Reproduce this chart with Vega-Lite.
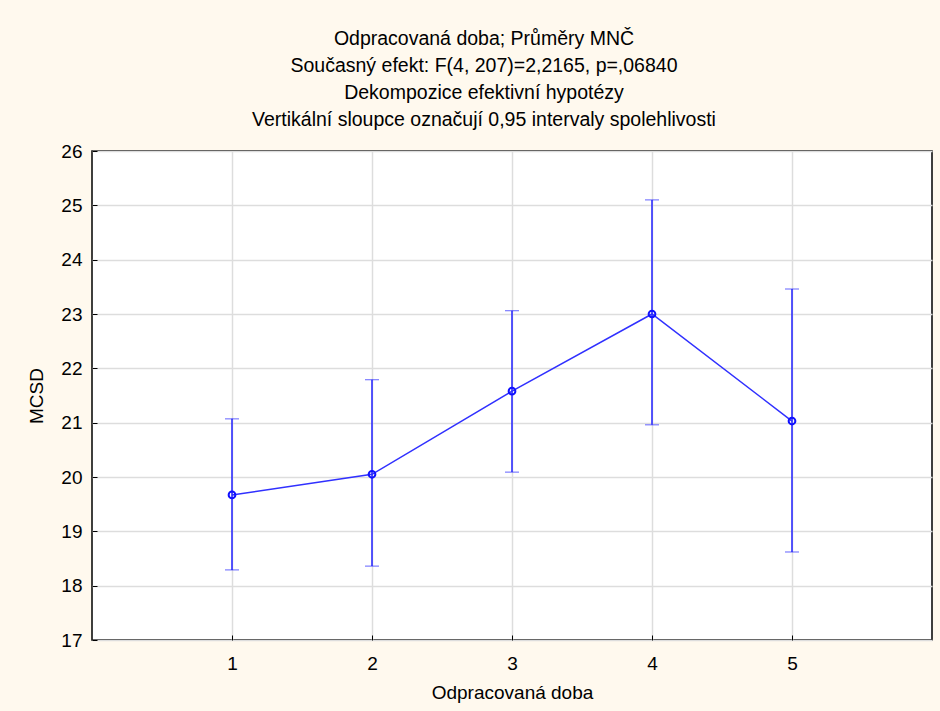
{
  "$schema": "https://vega.github.io/schema/vega-lite/v6.json",
  "autosize": {"type": "none"},
  "width": 840,
  "height": 489,
  "padding": {"left": 92, "top": 151, "right": 8, "bottom": 71},
  "background": "#FFF9EE",
  "config": {
    "font": "Liberation Sans",
    "view": {"stroke": "#000000", "strokeWidth": 1.5, "fill": "#FFFFFF"}
  },
  "title": {
    "text": ["Odpracovaná doba; Průměry MNČ", "Současný efekt: F(4, 207)=2,2165, p=,06840", "Dekompozice efektivní hypotézy", "Vertikální sloupce označují 0,95 intervaly spolehlivosti"],
    "font": "Liberation Sans",
    "fontSize": 19.5,
    "fontWeight": "normal",
    "color": "#000000",
    "lineHeight": 27,
    "anchor": "middle",
    "dx": -28,
    "offset": 12
  },
  "data": {
    "values": [
      {"doba": 1, "mean": 19.67, "lo": 18.29, "hi": 21.07},
      {"doba": 2, "mean": 20.05, "lo": 18.36, "hi": 21.79},
      {"doba": 3, "mean": 21.58, "lo": 20.09, "hi": 23.06},
      {"doba": 4, "mean": 23.0, "lo": 20.96, "hi": 25.1},
      {"doba": 5, "mean": 21.03, "lo": 18.62, "hi": 23.46}
    ]
  },
  "encoding": {
    "x": {
      "field": "doba",
      "type": "quantitative",
      "scale": {"domain": [0, 6], "nice": false, "zero": false},
      "axis": {
        "title": "Odpracovaná doba",
        "values": [1, 2, 3, 4, 5],
        "format": "d",
        "grid": true,
        "gridColor": "#DDDDDD",
        "gridWidth": 1.5,
        "domain": false,
        "tickColor": "#000000",
        "tickSize": -5,
        "labelPadding": 19,
        "labelFontSize": 19,
        "labelColor": "#000000",
        "titleFontSize": 19,
        "titleFontWeight": "normal",
        "titleColor": "#000000",
        "titlePadding": 10
      }
    }
  },
  "layer": [
    {
      "mark": {"type": "errorbar", "ticks": {"size": 14, "color": "#2020FF", "strokeWidth": 1.5}, "rule": {"color": "#2020FF", "strokeWidth": 1.5}},
      "encoding": {
        "y": {
          "field": "lo",
          "type": "quantitative",
          "scale": {"domain": [17, 26], "nice": false, "zero": false},
          "axis": {
            "title": "MCSD",
            "values": [17, 18, 19, 20, 21, 22, 23, 24, 25, 26],
            "format": "d",
            "grid": true,
            "gridColor": "#DDDDDD",
            "gridWidth": 1.5,
            "domain": false,
            "tickColor": "#000000",
            "tickSize": -5,
            "labelPadding": 15,
            "labelFontSize": 19,
            "labelColor": "#000000",
            "titleFontSize": 19,
            "titleFontWeight": "normal",
            "titleColor": "#000000",
            "titlePadding": 14
          }
        },
        "y2": {"field": "hi"}
      }
    },
    {
      "mark": {"type": "line", "color": "#3030FF", "strokeWidth": 1.5},
      "encoding": {"y": {"field": "mean", "type": "quantitative"}}
    },
    {
      "mark": {"type": "point", "shape": "circle", "filled": false, "color": "#1010FF", "size": 45, "strokeWidth": 2, "opacity": 1},
      "encoding": {"y": {"field": "mean", "type": "quantitative"}}
    }
  ]
}
